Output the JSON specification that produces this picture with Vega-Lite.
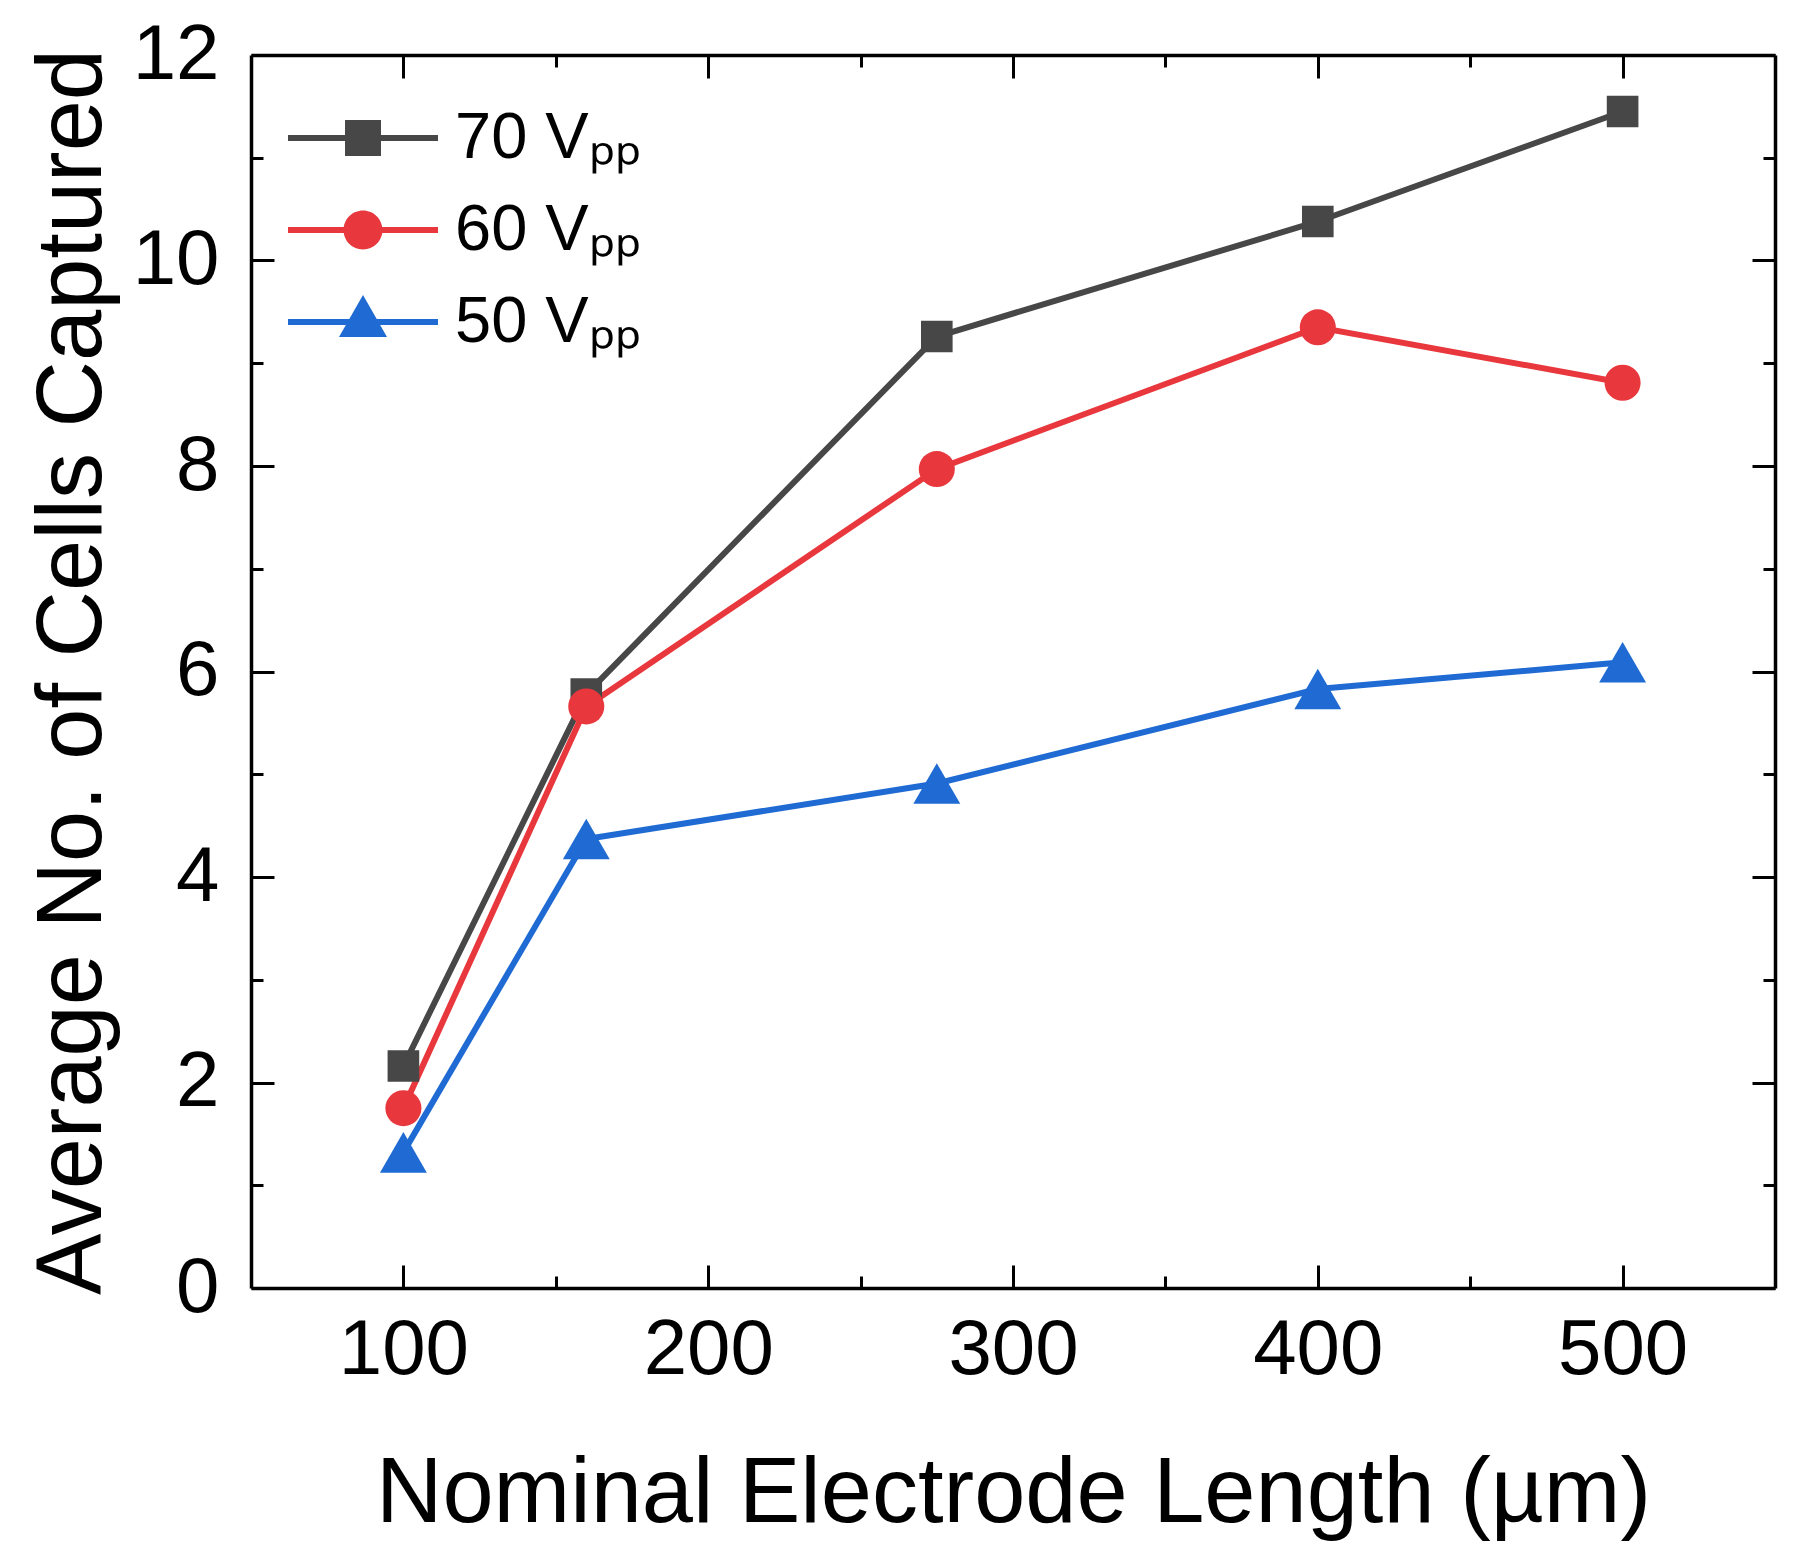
{
  "$schema": "https://vega.github.io/schema/vega-lite/v6.json",
  "width": 1524,
  "height": 1233,
  "autosize": "none",
  "padding": {"left": 251, "top": 55, "right": 32, "bottom": 277},
  "background": "white",
  "config": {
    "view": {"stroke": null},
    "font": "Liberation Sans",
    "axis": {
      "domainColor": "black",
      "domainWidth": 3.5,
      "tickColor": "black",
      "tickWidth": 3,
      "labelFont": "Liberation Sans",
      "labelFontSize": 78,
      "labelColor": "black",
      "titleFont": "Liberation Sans",
      "titleFontSize": 92,
      "titleFontWeight": "normal",
      "titleColor": "black",
      "grid": false
    }
  },
  "data": {
    "values": [
      {"L": 100, "N": 2.16, "series": "70 Vpp"},
      {"L": 160, "N": 5.78, "series": "70 Vpp"},
      {"L": 275, "N": 9.26, "series": "70 Vpp"},
      {"L": 400, "N": 10.38, "series": "70 Vpp"},
      {"L": 500, "N": 11.45, "series": "70 Vpp"},
      {"L": 100, "N": 1.75, "series": "60 Vpp"},
      {"L": 160, "N": 5.66, "series": "60 Vpp"},
      {"L": 275, "N": 7.97, "series": "60 Vpp"},
      {"L": 400, "N": 9.35, "series": "60 Vpp"},
      {"L": 500, "N": 8.81, "series": "60 Vpp"},
      {"L": 100, "N": 1.32, "series": "50 Vpp"},
      {"L": 160, "N": 4.37, "series": "50 Vpp"},
      {"L": 275, "N": 4.91, "series": "50 Vpp"},
      {"L": 400, "N": 5.83, "series": "50 Vpp"},
      {"L": 500, "N": 6.09, "series": "50 Vpp"}
    ]
  },
  "encoding": {
    "x": {"field": "L", "type": "quantitative", "scale": {"domain": [50, 550], "nice": false, "zero": false}, "axis": null},
    "y": {"field": "N", "type": "quantitative", "scale": {"domain": [0, 12], "nice": false, "zero": true}, "axis": null}
  },
  "layer": [
    {
      "transform": [{"filter": "datum.series === '70 Vpp'"}],
      "mark": {"type": "line", "strokeWidth": 6, "color": "#474747"},
      "encoding": {
        "x": {
          "field": "L", "type": "quantitative",
          "scale": {"domain": [50, 550], "nice": false, "zero": false},
          "axis": {
            "orient": "bottom",
            "values": [100, 150, 200, 250, 300, 350, 400, 450, 500],
            "labelExpr": "datum.value % 100 === 0 ? datum.label : ''",
            "tickSize": {"condition": {"test": "datum.value % 100 === 0", "value": -23}, "value": -12},
            "labelPadding": 46,
            "title": "Nominal Electrode Length (µm)",
            "titleY": 233,
            "titleBaseline": "alphabetic"
          }
        },
        "y": {
          "field": "N", "type": "quantitative",
          "scale": {"domain": [0, 12], "nice": false, "zero": true},
          "axis": {
            "orient": "left",
            "values": [0, 1, 2, 3, 4, 5, 6, 7, 8, 9, 10, 11, 12],
            "labelExpr": "datum.value % 2 === 0 ? datum.label : ''",
            "tickSize": {"condition": {"test": "datum.value % 2 === 0", "value": -23}, "value": -12},
            "labelPadding": 55,
            "title": "Average No. of Cells Captured",
            "titleX": -151,
            "titleBaseline": "alphabetic",
            "titleAngle": -90
          }
        }
      }
    },
    {
      "transform": [{"filter": "datum.series === '60 Vpp'"}],
      "mark": {"type": "line", "strokeWidth": 6, "color": "#e8383d"}
    },
    {
      "transform": [{"filter": "datum.series === '50 Vpp'"}],
      "mark": {"type": "line", "strokeWidth": 6, "color": "#1f6bd3"}
    },
    {
      "transform": [{"filter": "datum.series === '70 Vpp'"}],
      "mark": {"type": "point", "shape": "square", "size": 1000, "filled": true, "opacity": 1, "color": "#474747"}
    },
    {
      "transform": [{"filter": "datum.series === '60 Vpp'"}],
      "mark": {"type": "point", "shape": "circle", "size": 1300, "filled": true, "opacity": 1, "color": "#e8383d"}
    },
    {
      "transform": [{"filter": "datum.series === '50 Vpp'"}],
      "mark": {"type": "point", "shape": "triangle-up", "size": 2200, "filled": true, "opacity": 1, "color": "#1f6bd3"}
    },
    {
      "transform": [{"filter": "datum.L < 0"}],
      "mark": {"type": "point", "filled": true, "opacity": 1},
      "encoding": {
        "x": {
          "field": "L", "type": "quantitative",
          "scale": {"domain": [50, 550], "nice": false, "zero": false},
          "axis": {
            "orient": "top",
            "values": [100, 150, 200, 250, 300, 350, 400, 450, 500],
            "labels": false,
            "tickSize": {"condition": {"test": "datum.value % 100 === 0", "value": -23}, "value": -12},
            "title": null
          }
        },
        "y": {
          "field": "N", "type": "quantitative",
          "scale": {"domain": [0, 12], "nice": false, "zero": true},
          "axis": {
            "orient": "right",
            "values": [0, 1, 2, 3, 4, 5, 6, 7, 8, 9, 10, 11, 12],
            "labels": false,
            "tickSize": {"condition": {"test": "datum.value % 2 === 0", "value": -23}, "value": -12},
            "title": null
          }
        },
        "color": {
          "field": "series", "type": "nominal",
          "scale": {"domain": ["70 Vpp", "60 Vpp", "50 Vpp"], "range": ["#474747", "#e8383d", "#1f6bd3"]},
          "legend": {
            "orient": "none",
            "legendX": 53,
            "legendY": 24,
            "title": null,
            "padding": 0,
            "symbolSize": 13924,
            "symbolStrokeWidth": 0,
            "symbolOpacity": 1,
            "labelFont": "Liberation Sans",
            "labelFontSize": 65,
            "labelColor": "black",
            "labelOffset": 33,
            "labelLimit": 0,
            "rowPadding": 0,
            "labelExpr": "replace(datum.label, 'Vpp', 'Vₚₚ')"
          }
        },
        "shape": {
          "field": "series", "type": "nominal",
          "scale": {
            "domain": ["70 Vpp", "60 Vpp", "50 Vpp"],
            "range": [
              "M-1.271,-0.05H1.271V0.05H-1.271ZM-0.305,-0.305H0.305V0.305H-0.305Z",
              "M-1.271,-0.05H1.271V0.05H-1.271ZM-0.33,0A0.33,0.33,0,1,1,0.33,0A0.33,0.33,0,1,1,-0.33,0Z",
              "M-1.271,-0.05H1.271V0.05H-1.271ZM0,-0.458L0.407,0.254L-0.407,0.254Z"
            ]
          }
        }
      }
    }
  ],
  "resolve": {"axis": {"x": "independent", "y": "independent"}}
}
